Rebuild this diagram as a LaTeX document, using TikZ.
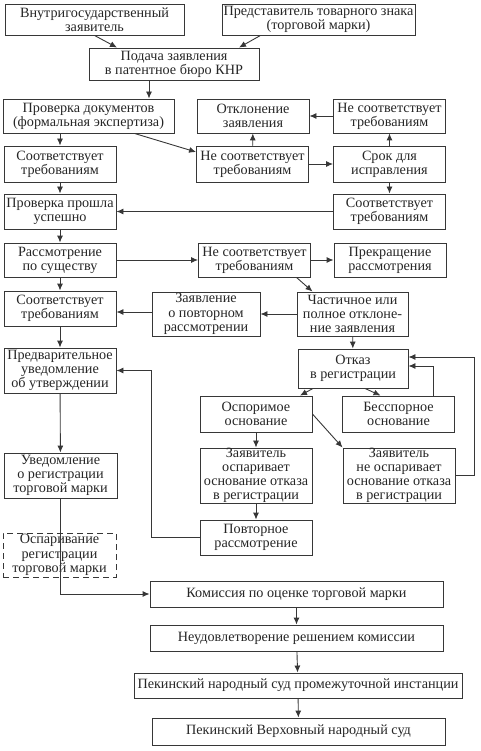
\documentclass[tikz,border=0pt]{standalone}
\usepackage{fontspec}
\setmainfont{Liberation Serif}
\usetikzlibrary{arrows.meta,positioning,calc}
\definecolor{linegray}{RGB}{55,55,55}
\tikzset{box/.style={draw=linegray,line width=0.9pt,align=center,font=\fontsize{14.2}{14.2}\selectfont,text=black!85,inner sep=0pt,minimum width=112pt,minimum height=35pt},wide/.style={box,minimum width=293pt,minimum height=26pt},optional/.style={box,dash pattern=on 6pt off 4pt},edge/.style={-{Latex[length=7pt,width=6pt]},draw=linegray,line width=0.9pt}}

\begin{document}
\begin{tikzpicture}[x=1pt,y=-1pt]
\useasboundingbox (0,0) rectangle (480,751);
\node[box,minimum width=179pt,minimum height=31pt] (domestic) at (94.5,19.5) {Внутригосударственный\\заявитель};
\node[box,minimum width=193pt,minimum height=31pt] (agent) at (318.5,19.5) {Представитель товарного знака\\(торговой марки)};
\node[box,minimum width=170pt,minimum height=32pt] (filing) at (174,64) {Подача заявления\\в патентное бюро КНР};
\node[box,minimum width=171pt,minimum height=34pt] (formal) at (88.5,116) {Проверка документов\\(формальная экспертиза)};
\node[box,minimum height=34pt] (reject) at (253,116) {Отклонение\\заявления};
\node[box,minimum height=34pt] (failfix) at (389.5,116) {Не соответствует\\требованиям};
\node[box,minimum height=36pt] (passA) at (60,164) {Соответствует\\требованиям};
\node[box,minimum height=36pt] (failA) at (252.5,164) {Не соответствует\\требованиям};
\node[box,minimum height=36pt] (deadline) at (389.5,164) {Срок для\\исправления};
\node[box] (passed) at (60,211.5) {Проверка прошла\\успешно};
\node[box] (passfix) at (389.5,211.5) {Соответствует\\требованиям};
\node[box,minimum height=34pt] (substance) at (60,260) {Рассмотрение\\по существу};
\node[box,minimum height=34pt] (failB) at (254.5,260) {Не соответствует\\требованиям};
\node[box,minimum height=34pt] (stop) at (390,260) {Прекращение\\рассмотрения};
\node[box] (passB) at (60,308.5) {Соответствует\\требованиям};
\node[box,minimum width=108pt,minimum height=44pt] (review) at (206,314) {Заявление\\о повторном\\рассмотрении};
\node[box,minimum width=111pt,minimum height=44pt] (partial) at (352.5,314) {Частичное или\\полное отклоне-\\ние заявления};
\node[box,minimum height=45pt] (prelim) at (60,370.5) {Предварительное\\уведомление\\об утверждении};
\node[box,minimum width=110pt,minimum height=39pt] (refusal) at (353,368.5) {Отказ\\в регистрации};
\node[box,minimum height=36pt] (disputable) at (256,414) {Оспоримое\\основание};
\node[box,minimum height=36pt] (undisputed) at (398.5,414) {Бесспорное\\основание};
\node[box,minimum width=113pt,minimum height=45pt] (notice) at (60.5,475.5) {Уведомление\\о регистрации\\торговой марки};
\node[box,minimum height=53pt] (contest) at (256,475.5) {Заявитель\\оспаривает\\основание отказа\\в регистрации};
\node[box,minimum height=53pt] (nocontest) at (399,475.5) {Заявитель\\не оспаривает\\основание отказа\\в регистрации};
\node[box] (rehearing) at (256,537.5) {Повторное\\рассмотрение};
\node[optional,minimum width=113pt,minimum height=44pt] (opposition) at (59.5,555) {Оспаривание\\регистрации\\торговой марки};
\node[wide] (board) at (296.5,594) {Комиссия по оценке торговой марки};
\node[wide] (appeal) at (296.5,638) {Неудовлетворение решением комиссии};
\node[wide,minimum width=328pt,minimum height=25pt] (midcourt) at (298,685.5) {Пекинский народный суд промежуточной инстанции};
\node[wide,minimum height=27pt] (highcourt) at (298.5,731.5) {Пекинский Верховный народный суд};
% top part
\draw[edge] (domestic.south) -- ([xshift=-57pt]filing.north);
\draw[edge] ([xshift=-58pt]agent.south) -- ([xshift=65pt]filing.north);
\draw[edge] ([xshift=-25pt]filing.south) coordinate (f) -- (f |- formal.north);
\draw[edge] (formal.south -| passA.north) -- (passA);
\draw[edge] ([xshift=46pt]formal.south) -- ([yshift=12pt]failA.west);
\draw[edge] (failA) -- (reject);
\draw[edge] (failA) -- (deadline);
\draw[edge] (deadline) -- (failfix);
\draw[edge] (failfix) -- (reject);
\draw[edge] (deadline) -- (passfix);
\draw[edge] (passfix) -- (passed);
\draw[edge] (passA) -- (passed);
\draw[edge] (passed) -- (substance);
% examination
\draw[edge] (substance) -- (failB);
\draw[edge] (failB) -- (stop);
\draw[edge] ([xshift=42pt]failB.south) -- ([xshift=-40pt]partial.north);
\draw[edge] (partial) -- (review);
\draw[edge] ([yshift=2pt]review.west) -- ([yshift=2pt]review.west -| passB.east);
\draw[edge] (substance) -- (passB);
\draw[edge] (passB) -- (prelim);
\draw[edge] (partial) -- (refusal);
% refusal branch
\draw[edge] ([xshift=-40pt]refusal.south) -- ([xshift=44pt]disputable.north);
\draw[edge] ([xshift=12pt]refusal.south) -- ([xshift=-18pt]undisputed.north);
\draw[edge] ([xshift=34.5pt]undisputed.north) |- ([yshift=2.5pt]refusal.east);
\draw[edge] (nocontest.east) -- ++(19,0) |- ([yshift=11.5pt]refusal.east);
\draw[edge] (disputable) -- (contest);
\draw[edge] (disputable.east) -- (nocontest.north west);
\draw[edge] (contest) -- (rehearing);
\draw[edge] (rehearing.west) -- ++(-48,0) |- (prelim.east);
% registration and courts
\draw[edge] (prelim) -- (notice);
\draw[edge] (notice.south) |- (board.west);
\draw[edge] (board) -- (appeal);
\draw[edge] (appeal) -- (midcourt);
\draw[edge] (midcourt) -- (highcourt);
\end{tikzpicture}
\end{document}
